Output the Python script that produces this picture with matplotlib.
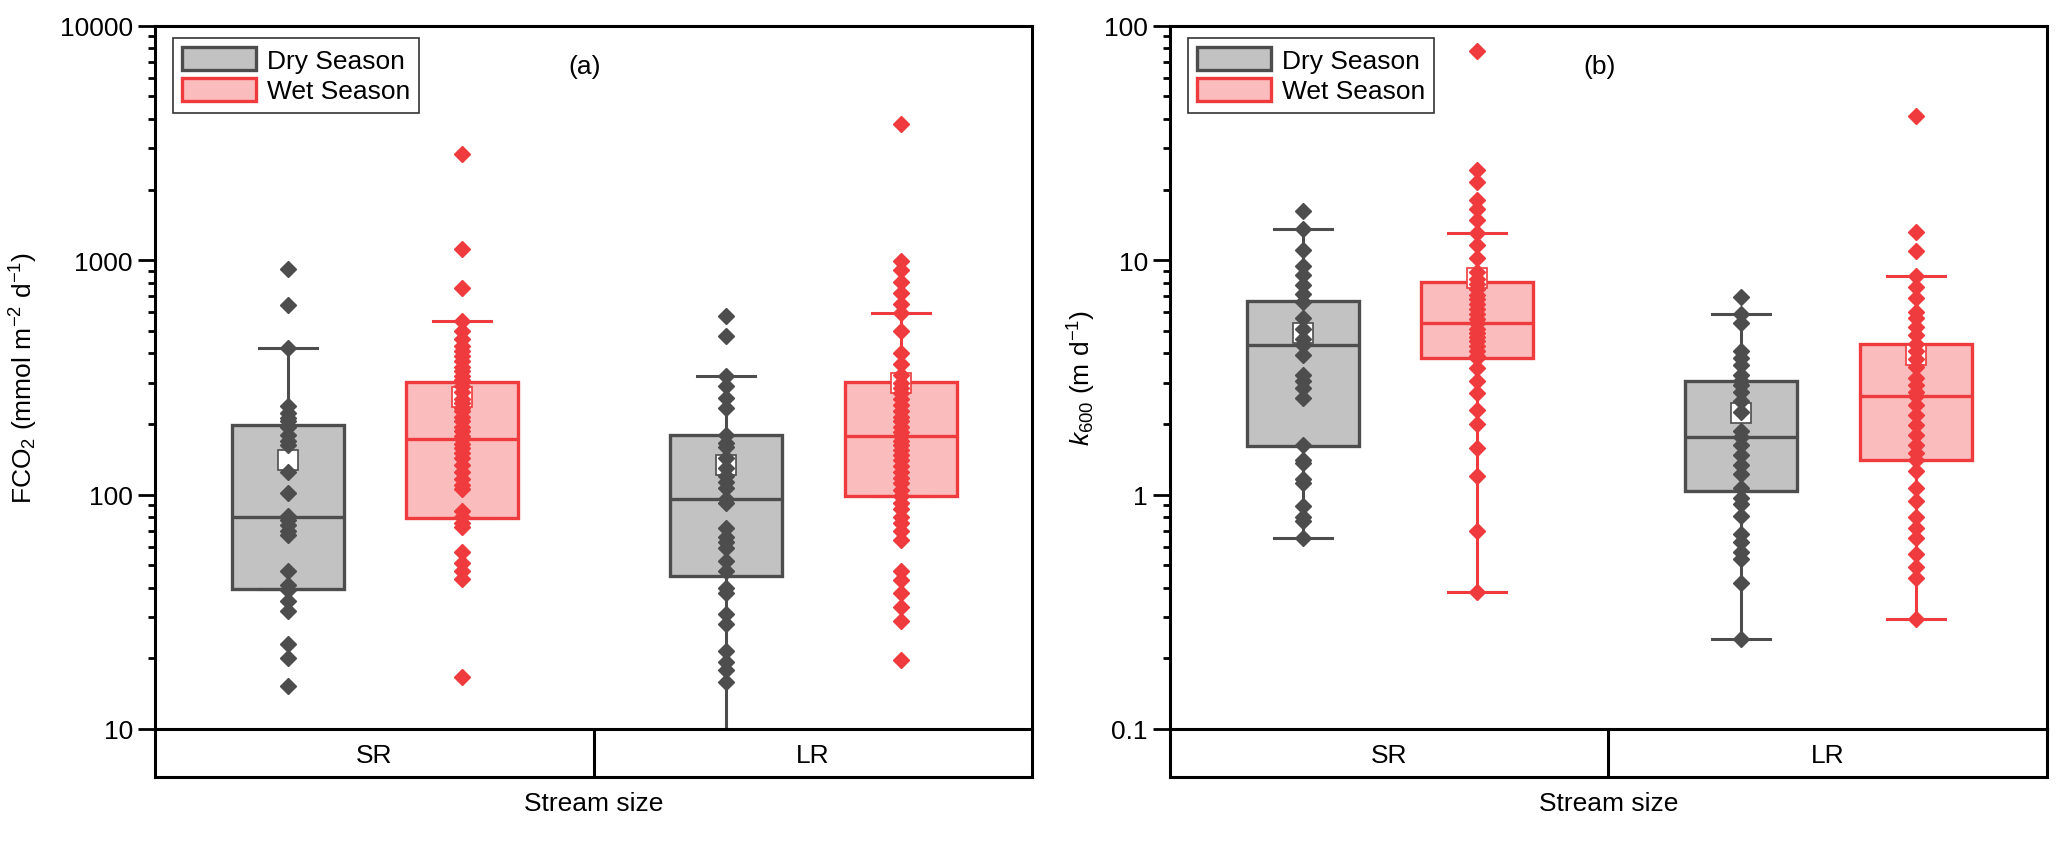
import matplotlib
matplotlib.use("Agg")
import matplotlib.pyplot as plt
from matplotlib.patches import Patch
from matplotlib.ticker import LogLocator, NullFormatter, FixedLocator, FixedFormatter

plt.rcParams['font.family'] = ['Liberation Sans', 'DejaVu Sans']
plt.rcParams['mathtext.fontset'] = 'custom'
plt.rcParams['mathtext.rm'] = 'Liberation Sans'
plt.rcParams['mathtext.it'] = 'Liberation Sans:italic'

# ---- data (order: SR dry, SR wet, LR dry, LR wet) ----
fco2_sr_dry = [914, 641, 420, 238, 222, 212, 205, 195, 180, 170, 163, 125, 102, 81, 78, 74,
               70, 67, 47, 41, 39, 35, 32, 23, 20, 15.3]
fco2_sr_wet = [2840, 1120, 764, 548, 498, 459, 430, 409, 390, 371, 350, 336, 322, 309, 290, 275,
               255, 246, 235, 227, 215, 205, 195, 186, 178, 172, 165, 158, 150, 143, 134, 125,
               117, 110, 106, 85, 80, 76, 73, 57, 51, 47, 43.5, 16.6]
fco2_lr_dry = [577, 474, 321, 290, 258, 234, 180, 166, 160, 143, 130, 120, 113, 107, 96, 92,
               72, 66, 63, 59, 52, 47, 40, 38, 31, 28, 21.6, 19.3, 17.8, 15.8]
fco2_lr_wet = [3800, 990, 904, 809, 726, 651, 597, 500, 402, 360, 323, 300, 285, 270, 255, 240,
               228, 215, 205, 195, 185, 178, 170, 162, 155, 148, 140, 132, 125, 118, 112, 105,
               99, 92, 87, 80, 76, 70, 64, 47, 43, 38, 33, 29, 19.7]

fco2_q1 = [39.5, 79.6, 45, 99]
fco2_med = [80, 173, 96, 178]
fco2_q3 = [198, 302, 180, 302]
fco2_lo = [39.5, 79.6, 8, 99]
fco2_hi = [420, 548, 321, 597]
fco2_mean = [141, 262, 134, 300]

k_sr_dry = [16.2, 13.6, 11.0, 9.4, 8.6, 7.8, 7.2, 6.65, 5.65, 5.1, 4.6, 4.35, 3.94, 3.24, 3.04,
            2.85, 2.58, 1.63, 1.41, 1.36, 1.16, 1.12, 0.89, 0.80, 0.77, 0.65]
k_sr_wet = [77.8, 24.2, 21.6, 18.0, 16.6, 14.8, 13.1, 11.6, 10.2, 8.93, 8.3, 7.9, 7.5, 7.1, 6.8,
            6.5, 6.2, 5.9, 5.6, 5.38, 5.1, 4.9, 4.7, 4.5, 4.3, 4.1, 3.9, 3.82, 3.46, 3.04, 2.7,
            2.3, 2.0, 1.58, 1.20, 0.70, 0.385]
k_lr_dry = [6.99, 5.87, 5.38, 4.08, 3.82, 3.57, 3.24, 3.04, 2.94, 2.75, 2.50, 2.26, 1.86, 1.76,
            1.63, 1.48, 1.34, 1.22, 1.07, 0.97, 0.91, 0.81, 0.68, 0.63, 0.57, 0.53, 0.42, 0.241]
k_lr_wet = [41, 13.2, 10.9, 8.55, 7.7, 6.87, 6.03, 5.65, 5.21, 4.80, 4.39, 4.1, 3.8, 3.5, 3.14,
            2.94, 2.75, 2.64, 2.42, 2.19, 1.98, 1.80, 1.63, 1.50, 1.40, 1.26, 1.07, 0.94, 0.80,
            0.72, 0.65, 0.56, 0.49, 0.44, 0.294]

k_q1 = [1.61, 3.82, 1.035, 1.40]
k_med = [4.35, 5.38, 1.76, 2.64]
k_q3 = [6.7, 8.1, 3.04, 4.39]
k_lo = [0.65, 0.385, 0.241, 0.294]
k_hi = [13.6, 13.1, 5.87, 8.55]
k_mean = [4.87, 8.36, 2.23, 3.95]

categories = ['SR', 'LR']
seasons = ['Dry Season', 'Wet Season']

# ---- style ----
edge_c = ['#4d4d4d', '#ef3b3d']
fill_c = ['#c2c2c2', '#fbbcbd']
positions = [0.803, 1.2, 1.802, 2.201]
box_w = 0.256
cap_w = 0.132
fs = 19

fig = plt.figure(figsize=(20.67, 8.45), dpi=100)
W, H = 2067.0, 845.0


def panel(left_px, values, q1, med, q3, lo, hi, mean, ylim, ticks, ticklabels, ylabel, tag, ylab_x):
    # category band below the plot (drawn first so the main spine sits on top)
    band = fig.add_axes([left_px / W, 1 - 778 / H, 877 / W, (778 - 730) / H])
    band.patch.set_visible(False)
    band.set_xlim(0.5, 2.5)
    band.set_ylim(0, 1)
    band.set_xticks([])
    band.set_yticks([])
    band.spines['top'].set_visible(False)
    for k in ['left', 'right', 'bottom']:
        band.spines[k].set_linewidth(2.2)
    band.axvline(1.5, color='black', lw=2.2)
    for j, c in enumerate(categories):
        band.text(j + 1, 0.45, c, fontsize=fs, ha='center', va='center')
    band.set_xlabel('Stream size', fontsize=fs, labelpad=10)

    ax = fig.add_axes([left_px / W, 1 - 730 / H, 877 / W, (730 - 26.7) / H])
    for i, vals in enumerate(values):
        s = i % 2
        st = [dict(q1=q1[i], med=med[i], q3=q3[i], whislo=lo[i], whishi=hi[i], fliers=[])]
        ax.bxp(st, positions=[positions[i]], widths=box_w, capwidths=cap_w,
               patch_artist=True, showfliers=False, manage_ticks=False,
               boxprops=dict(facecolor=fill_c[s], edgecolor=edge_c[s], linewidth=2.4),
               medianprops=dict(color=edge_c[s], linewidth=2.4),
               whiskerprops=dict(color=edge_c[s], linewidth=2.2),
               capprops=dict(color=edge_c[s], linewidth=2.2))
        ax.plot([positions[i]], [mean[i]], marker='s', ms=14, mfc='white', mec=edge_c[s],
                mew=1.2, ls='none', zorder=4)
        ax.plot([positions[i]] * len(vals), vals, marker='D', ms=8.2, color=edge_c[s],
                mec=edge_c[s], ls='none', zorder=5)
    ax.set_yscale('log')
    ax.set_ylim(*ylim)
    ax.set_xlim(0.5, 2.5)
    ax.set_xticks([])
    ax.yaxis.set_major_locator(FixedLocator(ticks))
    ax.yaxis.set_major_formatter(FixedFormatter(ticklabels))
    ax.yaxis.set_minor_locator(LogLocator(base=10, subs=range(2, 10)))
    ax.yaxis.set_minor_formatter(NullFormatter())
    ax.tick_params(axis='y', which='major', direction='out', length=12, width=2,
                   labelsize=fs, pad=4)
    ax.tick_params(axis='y', which='minor', direction='out', length=5, width=2)
    for sp in ax.spines.values():
        sp.set_linewidth(2.2)
    ax.set_ylabel(ylabel, fontsize=fs)
    ax.yaxis.set_label_coords(ylab_x, 0.5)
    ax.text(0.49, 0.942, tag, transform=ax.transAxes, fontsize=fs, ha='center', va='center')

    handles = [Patch(facecolor=fill_c[k], edgecolor=edge_c[k], linewidth=2.4) for k in range(2)]
    leg = ax.legend(handles, seasons, loc='upper left', bbox_to_anchor=(0.0205, 0.9825),
                    borderaxespad=0, fontsize=fs, frameon=True, fancybox=False,
                    framealpha=1, edgecolor='#333333', handlelength=2.8, handleheight=0.95,
                    handletextpad=0.4, labelspacing=0.2, borderpad=0.35)
    leg.get_frame().set_linewidth(1.2)
    return ax


panel(155, [fco2_sr_dry, fco2_sr_wet, fco2_lr_dry, fco2_lr_wet],
      fco2_q1, fco2_med, fco2_q3, fco2_lo, fco2_hi, fco2_mean,
      (10, 10000), [10, 100, 1000, 10000], ['10', '100', '1000', '10000'],
      r'FCO$_2$ (mmol m$^{-2}$ d$^{-1}$)', '(a)', -0.131)

panel(1170, [k_sr_dry, k_sr_wet, k_lr_dry, k_lr_wet],
      k_q1, k_med, k_q3, k_lo, k_hi, k_mean,
      (0.1, 100), [0.1, 1, 10, 100], ['0.1', '1', '10', '100'],
      r'$k_{600}$ (m d$^{-1}$)', '(b)', -0.082)

fig.savefig('out.png', dpi=100)
